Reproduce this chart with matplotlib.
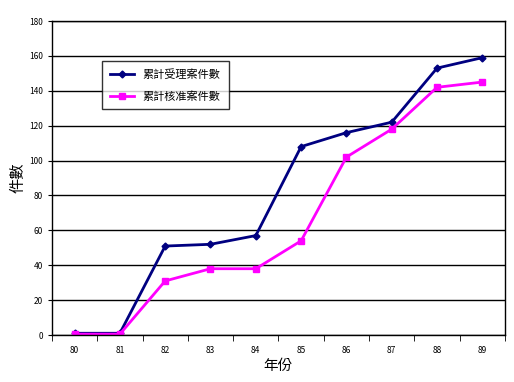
import numpy as np
import matplotlib
matplotlib.use("Agg")
import matplotlib.pyplot as plt

plt.rcParams['font.family'] = ['Noto Sans CJK TC', 'DejaVu Sans']

years = ["80", "81", "82", "83", "84", "85", "86", "87", "88", "89"]
accepted = [1, 1, 51, 52, 57, 108, 116, 122, 153, 159]
approved = [0.5, 0.5, 31, 38, 38, 54, 102, 118, 142, 145]

fig = plt.figure(figsize=(5.14, 3.82), dpi=100)
ax = fig.add_axes([0.101, 0.123, 0.8815, 0.822])

x = np.arange(len(years))
ax.plot(x, accepted, color="#000080", lw=2, marker="D", ms=3.5, label="累計受理案件數")
ax.plot(x, approved, color="#FF00FF", lw=2, marker="s", ms=5, label="累計核准案件數")

ax.set_xlim(-0.5, len(years) - 0.5)
ax.set_ylim(0, 180)
ax.set_yticks(range(0, 181, 20))
ax.yaxis.grid(True, color="black", lw=1)
ax.set_axisbelow(True)

ax.set_xticks(x)
ax.set_xticklabels(years)
ax.set_xticks(np.arange(-0.5, len(years)), minor=True)
ax.tick_params(axis="x", which="major", length=0, labelsize=6, pad=8)
ax.tick_params(axis="x", which="minor", length=4, direction="out")
ax.tick_params(axis="y", length=3, labelsize=6)

for s in ax.spines.values():
    s.set_color("black")
    s.set_linewidth(1)

ax.set_xlabel("年份", fontsize=10.5, labelpad=3)
ax.set_ylabel("件數", fontsize=11, labelpad=2)

leg = ax.legend(loc="upper left", bbox_to_anchor=(0.110, 0.873), fontsize=8,
                frameon=True, fancybox=False, edgecolor="black", borderaxespad=0,
                labelspacing=1.0, handlelength=2.2, borderpad=0.7)
leg.get_frame().set_linewidth(1)

fig.savefig("out.png", dpi=100)
